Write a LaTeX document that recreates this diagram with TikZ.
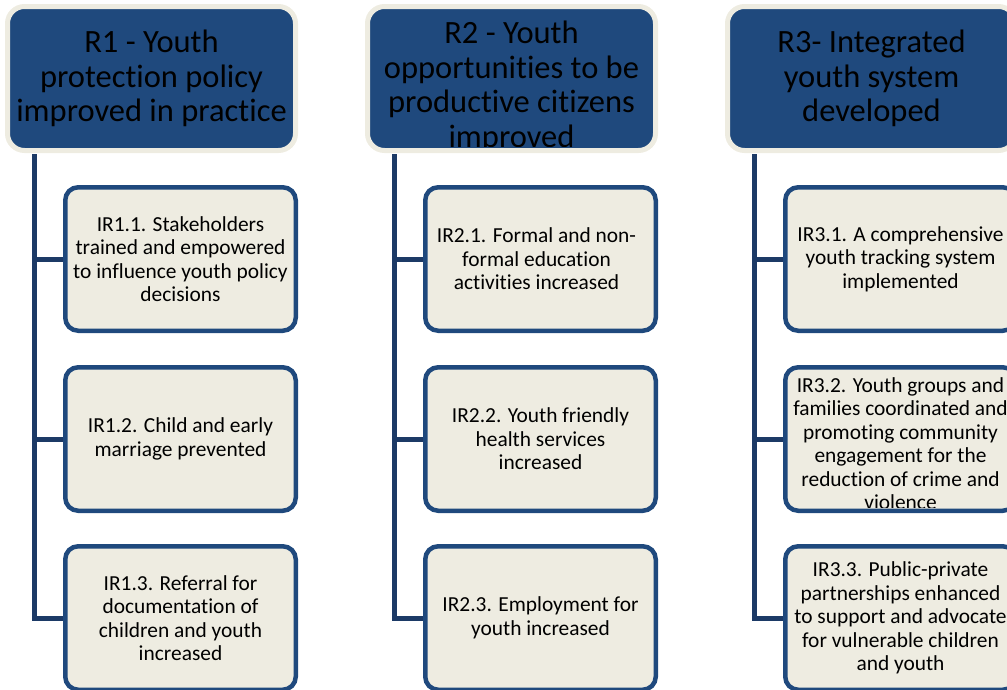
\documentclass[tikz,border=0pt]{standalone}
\usepackage{fontspec}
\setmainfont{Carlito}[Ligatures={NoCommon}]
\usetikzlibrary{calc,backgrounds}
\definecolor{goalblue}{HTML}{1F497D}
\definecolor{goalrim}{HTML}{EEECE1}
\definecolor{resultfill}{HTML}{EEECE1}
\definecolor{linkblue}{HTML}{1C3A66}
\tikzset{
  goal/.style = {draw=goalrim, fill=goalblue, line width=5pt,
    rounded corners=17pt, minimum width=288pt, minimum height=144pt,
    inner sep=0pt},
  result/.style = {draw=goalblue, fill=resultfill, line width=4.5pt,
    rounded corners=13pt, minimum width=230.5pt, minimum height=143.5pt,
    inner sep=0pt},
  goaltext/.style = {align=center, inner sep=0pt,
    font=\fontsize{32.5}{34.5}\selectfont},
  resulttext/.style = {align=center, inner sep=0pt,
    font=\fontsize{21.4}{23.5}\selectfont},
  link/.style = {draw=linkblue, line width=5pt},
}
% text of a box, cut off at the inside of its border
\def\filltext#1#2#3#4{%
  \begin{scope}
    \clip [rounded corners=10pt]
      ($(#1.south west)+(2.5pt,#2)$) rectangle ($(#1.north east)+(-2.5pt,-2.5pt)$);
    \node [#3] (#1-text) at (#1.center) {#4};
  \end{scope}
}

\begin{document}
\begin{tikzpicture}[x = 1pt, y = -1pt]

  \clip (0,0) rectangle (1007,689);

  % R1
  \node [goal] (r1) at (151.5,78.5) {};
  \node [result] (ir11) at (180.5,259) {};
  \node [result] (ir12) at (180.5,439) {};
  \node [result] (ir13) at (180.5,618) {};
  \filltext{r1}{2.5pt}{goaltext}{R1 - Youth\\protection policy\\improved in practice}
  \filltext{ir11}{2.5pt}{resulttext}{IR1.1. Stakeholders\\trained and empowered\\to influence youth policy\\decisions}
  \filltext{ir12}{2.5pt}{resulttext}{IR1.2. Child and early\\marriage prevented}
  \filltext{ir13}{2.5pt}{resulttext}{IR1.3. Referral for\\documentation of\\children and youth\\increased}

  % R2
  \node [goal] (r2) at (511.5,78.5) {};
  \node [result] (ir21) at (540.5,259) {};
  \node [result] (ir22) at (540.5,439) {};
  \node [result] (ir23) at (540.5,618) {};
  \filltext{r2}{7pt}{goaltext, yshift=-8.5pt}{R2 - Youth\\opportunities to be\\productive citizens\\improved}
  \filltext{ir21}{2.5pt}{resulttext, xshift=-4pt}{IR2.1. Formal and non-\\formal education\\activities increased}
  \filltext{ir22}{2.5pt}{resulttext}{IR2.2. Youth friendly\\health services\\increased}
  \filltext{ir23}{2.5pt}{resulttext}{IR2.3. Employment for\\youth increased}

  % R3
  \node [goal] (r3) at (871.5,78.5) {};
  \node [result] (ir31) at (900.5,259) {};
  \node [result] (ir32) at (900.5,439) {};
  \node [result] (ir33) at (900.5,618) {};
  \filltext{r3}{2.5pt}{goaltext}{R3- Integrated\\youth system\\developed}
  \filltext{ir31}{2.5pt}{resulttext}{IR3.1. A comprehensive\\youth tracking system\\implemented}
  \filltext{ir32}{6pt}{resulttext, yshift=-4.5pt}{IR3.2. Youth groups and\\families coordinated and\\promoting community\\engagement for the\\reduction of crime and\\violence}
  \filltext{ir33}{2.5pt}{resulttext}{IR3.3. Public-private\\partnerships enhanced\\to support and advocate\\for vulnerable children\\and youth}

  \begin{scope}[on background layer]
    \coordinate (r1trunk) at ([xshift=29pt, yshift=-1pt]r1.south west);
    \coordinate (r2trunk) at ([xshift=29pt, yshift=-1pt]r2.south west);
    \coordinate (r3trunk) at ([xshift=29pt, yshift=-1pt]r3.south west);
    \draw [link] (r1trunk) |- (ir13.west);
    \draw [link] (r1trunk |- ir11.west) -- (ir11.west);
    \draw [link] (r1trunk |- ir12.west) -- (ir12.west);
    \draw [link] (r2trunk) |- (ir23.west);
    \draw [link] (r2trunk |- ir21.west) -- (ir21.west);
    \draw [link] (r2trunk |- ir22.west) -- (ir22.west);
    \draw [link] (r3trunk) |- (ir33.west);
    \draw [link] (r3trunk |- ir31.west) -- (ir31.west);
    \draw [link] (r3trunk |- ir32.west) -- (ir32.west);
  \end{scope}

\end{tikzpicture}
\end{document}
